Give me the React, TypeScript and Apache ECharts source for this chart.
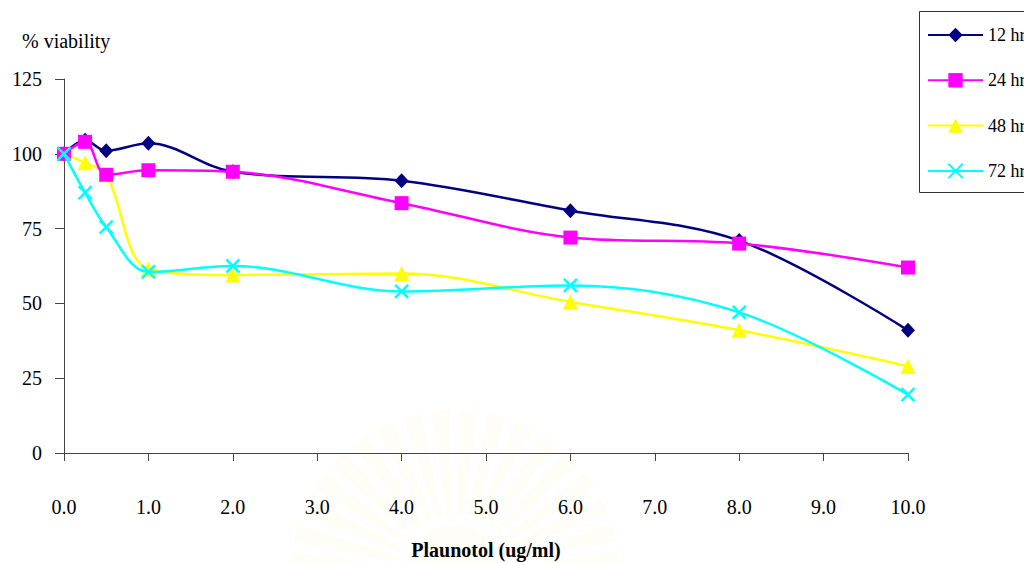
import React, { useEffect, useRef } from "react";
import * as echarts from "echarts";

const concentrations = [0, 0.25, 0.5, 1, 2, 4, 6, 8, 10];
const seriesNames = ["12 hr", "24 hr", "48 hr", "72 hr"];
const viability12 = [100, 104.5, 101, 103.5, 94, 91, 81, 71, 41];
const viability24 = [100, 104, 93, 94.5, 94, 83.5, 72, 70, 62];
const viability48 = [100, 97, 93, 61.5, 59.5, 60, 50.5, 41, 29];
const viability72 = [100, 87, 75.5, 60.5, 62.5, 54, 56, 47, 19.5];
const yTicks = [0, 25, 50, 75, 100, 125];

const FONT = "Liberation Serif";

export default function App() {
  const ref = useRef<HTMLDivElement>(null);

  useEffect(() => {
    document.body.style.margin = "0";
    const chart = echarts.init(ref.current!, null, { renderer: "svg" });
    const pair = (vals: number[]) => concentrations.map((c, i) => [c, vals[i]]);

    // faint background sunburst (decoration)
    const rays: any[] = [];
    for (let k = 0; k < 18; k++) {
      const a0 = Math.PI + (k * Math.PI) / 18 + 0.03;
      rays.push({
        type: "sector",
        silent: true,
        z: -10,
        shape: { cx: 455, cy: 575, r0: 60, r: 165, startAngle: a0, endAngle: a0 + 0.11 },
        style: { fill: "rgba(245,225,150,0.08)" },
      });
    }
    rays.push({
      type: "circle",
      silent: true,
      z: -10,
      shape: { cx: 455, cy: 575, r: 50 },
      style: { fill: "rgba(245,225,150,0.07)" },
    });

    chart.setOption({
      animation: false,
      backgroundColor: "#ffffff",
      textStyle: { fontFamily: FONT },
      grid: { left: 64, right: 116, top: 79, bottom: 110, outerBoundsMode: "none", containLabel: false },
      xAxis: {
        type: "value",
        min: 0,
        max: 10,
        interval: 1,
        name: "Plaunotol (ug/ml)",
        nameLocation: "middle",
        nameGap: 87,
        nameTextStyle: { fontFamily: FONT, fontSize: 20, fontWeight: "bold", color: "#000" },
        axisLine: { show: true, onZero: false, lineStyle: { color: "#444", width: 1 } },
        axisTick: { show: true, inside: false, length: 8, lineStyle: { color: "#444" } },
        axisLabel: {
          margin: 44,
          fontFamily: FONT,
          fontSize: 20,
          color: "#000",
          formatter: (v: number) => v.toFixed(1),
        },
        splitLine: { show: false },
      },
      yAxis: {
        type: "value",
        min: yTicks[0],
        max: yTicks[yTicks.length - 1],
        interval: 25,
        axisLine: { show: true, lineStyle: { color: "#444", width: 1 } },
        axisTick: { show: true, inside: false, length: 9, lineStyle: { color: "#444" } },
        axisLabel: { margin: 22, fontFamily: FONT, fontSize: 20, color: "#000" },
        splitLine: { show: false },
      },
      legend: {
        orient: "vertical",
        left: 927,
        top: 26,
        padding: 0,
        itemWidth: 55,
        itemHeight: 18,
        itemGap: 27.3,
        textStyle: { fontFamily: FONT, fontSize: 18, color: "#000" },
        data: seriesNames,
      },
      graphic: [
        ...rays,
        {
          type: "rect",
          shape: { x: 919.5, y: 11.5, width: 130, height: 181 },
          style: { fill: "none", stroke: "#333", lineWidth: 1 },
          silent: true,
        },
        {
          type: "text",
          x: 22,
          y: 31,
          style: { text: "% viability", fontFamily: FONT, fontSize: 20, fill: "#000" },
        },
      ],
      series: [
        {
          name: seriesNames[0],
          type: "line",
          smooth: 0.35,
          data: pair(viability12),
          symbol: "diamond",
          symbolSize: [14, 15],
          color: "#000080",
          lineStyle: { width: 2.5, color: "#000080" },
          itemStyle: { color: "#000080" },
          z: 4,
        },
        {
          name: seriesNames[1],
          type: "line",
          smooth: 0.35,
          data: pair(viability24),
          symbol: "rect",
          symbolSize: 14,
          color: "#ff00ff",
          lineStyle: { width: 2.5, color: "#ff00ff" },
          itemStyle: { color: "#ff00ff" },
          z: 5,
        },
        {
          name: seriesNames[2],
          type: "line",
          smooth: 0.35,
          data: pair(viability48),
          symbol: "triangle",
          symbolSize: 15,
          color: "#ffff00",
          lineStyle: { width: 2.5, color: "#ffff00" },
          itemStyle: { color: "#ffff00" },
          z: 3,
        },
        {
          name: seriesNames[3],
          type: "line",
          smooth: 0.35,
          data: pair(viability72),
          symbol: "path://M0,0L10,10M10,0L0,10",
          symbolSize: 13,
          color: "#00ffff",
          lineStyle: { width: 2.5, color: "#00ffff" },
          itemStyle: { color: "#00ffff", borderColor: "#00ffff", borderWidth: 2.5 },
          z: 6,
        },
      ],
    });
    return () => chart.dispose();
  }, []);

  return <div ref={ref} style={{ width: 1024, height: 563 }} />;
}
